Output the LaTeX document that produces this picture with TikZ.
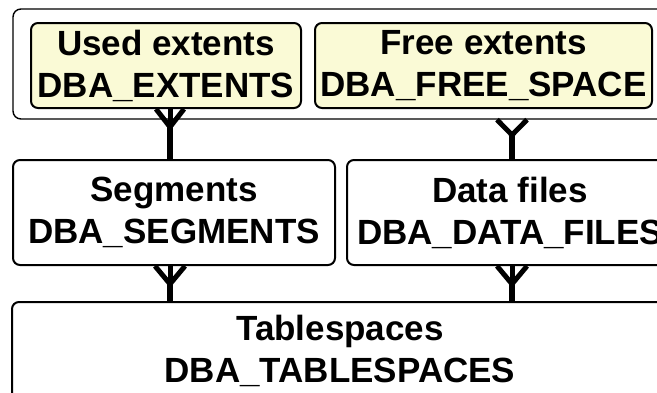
\documentclass[tikz,border=0pt]{standalone}
\usepackage{fontspec}
\setmainfont{Liberation Sans}
\begin{document}
\begin{tikzpicture}[x=1pt,y=-1pt,
  ent/.style={draw=black, line width=2pt, rounded corners=7pt, inner sep=0pt,
    align=center, font=\fontsize{35}{42}\selectfont\bfseries},
  yel/.style={fill=entyellow},
  wht/.style={fill=white},
  rel/.style={line width=5.5pt},
  prong/.style={line width=5pt}]
\definecolor{entyellow}{RGB}{250,250,214}
\useasboundingbox (0,0) rectangle (657,392);
\clip (0,0) rectangle (657,392);
% outer container
\node[draw=black, line width=1.4pt, rounded corners=8pt, minimum width=655pt, minimum height=110pt, inner sep=0pt] (grp) at (340.5,64) {};
% entities
\node[ent,yel,minimum width=270pt,minimum height=85pt] (used) at (166,65.5) {Used extents\\DBA\_EXTENTS};
\node[ent,yel,minimum width=337pt,minimum height=85pt] (free) at (483.5,65.5) {Free extents\\DBA\_FREE\_SPACE};
\node[ent,wht,minimum width=322pt,minimum height=105pt] (seg) at (174,212.5) {Segments\\DBA\_SEGMENTS};
\node[ent,wht,minimum width=326pt,minimum height=105pt] (df) at (510,212.5) {Data files\\DBA\_DATA\_FILES};
\node[ent,wht,minimum width=656pt,minimum height=98pt] (ts) at (340,351) {Tablespaces\\DBA\_TABLESPACES};
% fork points
\coordinate (f1) at (170,127);
\coordinate (f2) at (512,135);
\coordinate (f3) at (170,284);
\coordinate (f4) at (512,284);
% used extents -> segments
\draw[rel] (f1) -- (seg.north -| f1);
\draw[prong] (f1) -- ([xshift=-14pt]used.south -| f1);
\draw[prong] (f1) -- (used.south -| f1);
\draw[prong] (f1) -- ([xshift=14pt]used.south -| f1);
% group -> data files
\draw[rel] (f2) -- (df.north -| f2);
\draw[prong] (f2) -- ([xshift=-15pt]grp.south -| f2);
\draw[prong] (f2) -- ([xshift=15pt]grp.south -| f2);
% segments -> tablespaces
\draw[rel] (f3) -- (ts.north -| f3);
\draw[prong] (f3) -- ([xshift=-15pt]seg.south -| f3);
\draw[prong] (f3) -- (seg.south -| f3);
\draw[prong] (f3) -- ([xshift=15pt]seg.south -| f3);
% data files -> tablespaces
\draw[rel] (f4) -- (ts.north -| f4);
\draw[prong] (f4) -- ([xshift=-15pt]df.south -| f4);
\draw[prong] (f4) -- (df.south -| f4);
\draw[prong] (f4) -- ([xshift=15pt]df.south -| f4);
\end{tikzpicture}
\end{document}
